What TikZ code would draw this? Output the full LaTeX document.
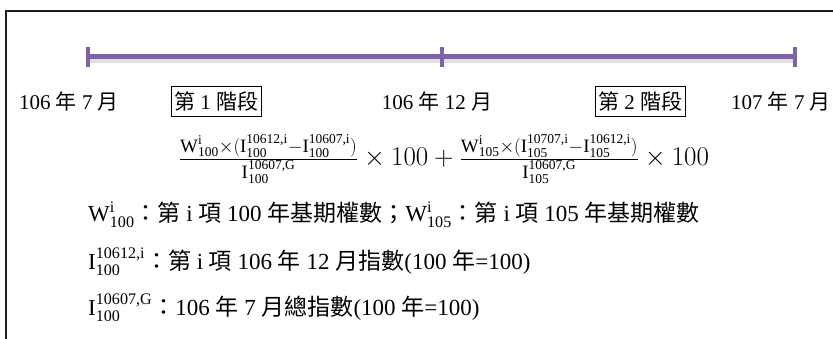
\RequirePackage{fix-cm}
\documentclass[tikz,border=0pt]{standalone}
\usepackage{amsmath}
\usepackage{fontspec}
\setmainfont{Liberation Serif}
\newfontfamily\cjk{Noto Sans CJK TC}
\usetikzlibrary{positioning}
\definecolor{cLine}{HTML}{7F63A8}
\definecolor{cShade}{HTML}{9A9A9A}
\definecolor{cFrame}{HTML}{1E1E1E}
\newcommand\zh[1]{{\cjk #1}}
\newcommand\idx[3]{\text{#1}^{\text{#2}}_{\text{#3}}}
\tikzset{
  frame/.style={draw=cFrame, line width=1.6pt},
  axis/.style={draw=cLine, line width=5pt},
  axisshade/.style={draw=cShade, line width=5pt, opacity=0.3},
  tickmark/.style={draw=cLine, line width=3.5pt},
  datelbl/.style={font=\fontsize{21}{25}\selectfont, inner sep=0pt},
  phase/.style={draw, line width=0.8pt, font=\fontsize{21}{25}\selectfont,
    inner sep=3pt, minimum height=30pt},
  legend/.style={font=\fontsize{23}{27}\selectfont, anchor=west, inner sep=0pt},
}
\begin{document}
\begin{tikzpicture}[x=1pt, y=-1pt]
    \useasboundingbox (0,0) rectangle (833,339);
    % open frame (top and left edge only)
    \draw[frame] (833,11) -- (6,11) -- (6,339);
    % time axis
    \coordinate (t0) at (88,57);
    \coordinate (t1) at (442,57);
    \coordinate (t2) at (795,57);
    \draw[axisshade] ([yshift=-4pt]t0) -- ([yshift=-4pt]t2);
    \draw[axis] (t0) -- (t2);
    \foreach \t in {t0,t1,t2}
      \draw[tickmark] ([yshift=10pt]\t) -- ([yshift=-10pt]\t);
    % dates and phases
    \node[datelbl] (d0) at (69,101) {106 \zh{年} 7 \zh{月}};
    \node[phase] (p1) at (216,101) {\zh{第} 1 \zh{階段}};
    \node[datelbl] (d1) at (437,101) {106 \zh{年} 12 \zh{月}};
    \node[phase] (p2) at (640,101) {\zh{第} 2 \zh{階段}};
    \node[datelbl] (d2) at (781,101) {107 \zh{年} 7 \zh{月}};
    % formula
    \node[font=\fontsize{27}{32}\selectfont, inner sep=0pt] (fml) at (444,159)
      {$\frac{\idx{W}{i}{100}\times(\idx{I}{10612,i}{100}-\idx{I}{10607,i}{100})}{\idx{I}{10607,G}{100}}\times 100
        +\frac{\idx{W}{i}{105}\times(\idx{I}{10707,i}{105}-\idx{I}{10612,i}{105})}{\idx{I}{10607,G}{105}}\times 100$};
    % legend
    \node[legend] (lw) at (88,215)
      {$\idx{W}{i}{100}$\zh{：第} i \zh{項} 100 \zh{年基期權數；}$\idx{W}{i}{105}$\zh{：第} i \zh{項} 105 \zh{年基期權數}};
    \node[legend] (li) at (88,262)
      {$\idx{I}{10612,i}{100}$\zh{：第} i \zh{項} 106 \zh{年} 12 \zh{月指數}(100 \zh{年}=100)};
    \node[legend] (lg) at (88,308)
      {$\idx{I}{10607,G}{100}$\zh{：}106 \zh{年} 7 \zh{月總指數}(100 \zh{年}=100)};
\end{tikzpicture}
\end{document}
